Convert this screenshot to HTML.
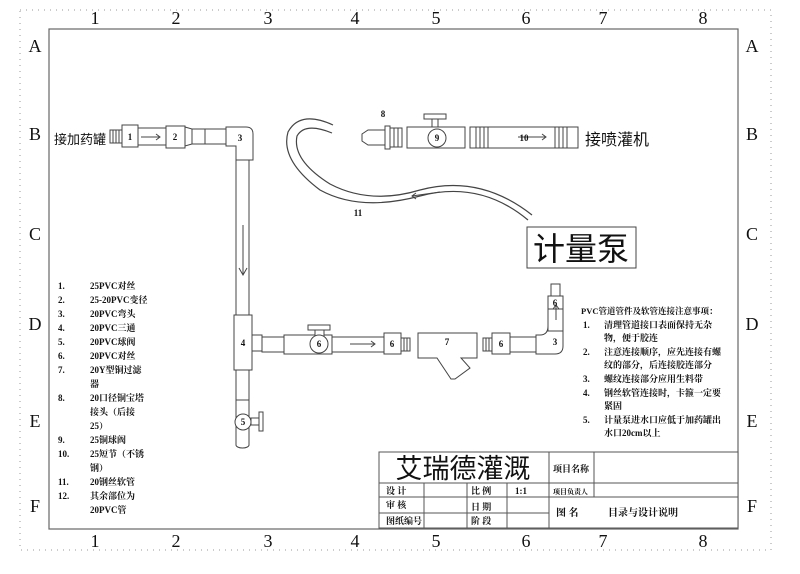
<!DOCTYPE html>
<html><head><meta charset="utf-8"><style>
html,body{margin:0;padding:0;background:#fff}
svg{display:block}
text{font-family:"Liberation Serif","Noto Serif CJK SC",serif;fill:#111}
.s{font-family:"Liberation Serif","Noto Sans CJK SC",serif;font-weight:bold;font-size:9px}
</style></head><body>
<svg width="800" height="574" viewBox="0 0 800 574" xmlns="http://www.w3.org/2000/svg">
<g fill="none" stroke="#999" stroke-width="1" stroke-dasharray="1,5">
<rect x="20" y="10" width="751" height="540"/>
</g>
<rect x="49" y="29" width="689" height="500" fill="none" stroke="#666" stroke-width="1.2"/>
<g font-size="18" text-anchor="middle">
<text x="95" y="24">1</text><text x="176" y="24">2</text><text x="268" y="24">3</text><text x="355" y="24">4</text><text x="436" y="24">5</text><text x="526" y="24">6</text><text x="603" y="24">7</text><text x="703" y="24">8</text>
<text x="95" y="547">1</text><text x="176" y="547">2</text><text x="268" y="547">3</text><text x="355" y="547">4</text><text x="436" y="547">5</text><text x="526" y="547">6</text><text x="603" y="547">7</text><text x="703" y="547">8</text>
<text x="35" y="52">A</text><text x="35" y="140">B</text><text x="35" y="240">C</text><text x="35" y="330">D</text><text x="35" y="427">E</text><text x="35" y="512">F</text>
<text x="752" y="52">A</text><text x="752" y="140">B</text><text x="752" y="240">C</text><text x="752" y="330">D</text><text x="752" y="427">E</text><text x="752" y="512">F</text>
</g>

<g fill="#fff" stroke="#444" stroke-width="1">
<rect x="110" y="130" width="12" height="13"/>
<line x1="113" y1="130" x2="113" y2="143"/><line x1="116" y1="130" x2="116" y2="143"/><line x1="119" y1="130" x2="119" y2="143"/>
<rect x="122" y="125" width="16" height="22"/>
<rect x="138" y="128" width="28" height="17"/>
<rect x="166" y="126" width="19" height="22"/>
<path d="M185 127 L192 129 L192 144 L185 146Z"/>
<rect x="192" y="129" width="13" height="15"/>
<rect x="205" y="129" width="21" height="15"/>
<path d="M226 127 L246 127 Q253 127 253 134 L253 160 L236 160 L236 146 L226 146Z"/>
<rect x="236" y="160" width="13" height="155"/>
<rect x="234" y="315" width="18" height="55"/>
<rect x="252" y="335" width="10" height="16"/>
<rect x="236" y="370" width="13" height="30"/>
<path d="M236 400 L249 400 L249 445 A6.5 3 0 0 1 236 445Z"/>
<circle cx="243" cy="422" r="8"/>
<rect x="251" y="418" width="8" height="7"/><rect x="259" y="412" width="4" height="19"/>
<rect x="262" y="337" width="22" height="15"/>
<rect x="284" y="335" width="48" height="19"/>
<rect x="315" y="330" width="9" height="6"/><rect x="308" y="325" width="22" height="5"/>
<circle cx="319" cy="344" r="9"/>
<rect x="332" y="337" width="52" height="15"/>
<rect x="384" y="333" width="17" height="21"/>
<rect x="401" y="338" width="9" height="13"/>
<line x1="404" y1="338" x2="404" y2="351"/><line x1="407" y1="338" x2="407" y2="351"/>
<path d="M418 333 L477 333 L477 358 L461 358 L470 368 L455 379 L451 379 L437 358 L418 358Z"/>
<rect x="483" y="338" width="9" height="13"/>
<line x1="486" y1="338" x2="486" y2="351"/><line x1="489" y1="338" x2="489" y2="351"/>
<rect x="492" y="333" width="18" height="21"/>
<rect x="510" y="337" width="26" height="15"/>
<path d="M536 335 L536 354 L555 354 Q563 354 563 346 L563 300 L548 300 L548 326 Q548 335 540 335Z"/>
<rect x="548" y="296" width="15" height="35"/>
<rect x="548" y="296" width="15" height="13"/>
<rect x="551" y="284" width="9" height="12"/>
<path d="M362 134 L368 130 L385 130 L385 145 L368 145 L362 141Z"/>
<rect x="385" y="126" width="5" height="23"/>
<rect x="390" y="128" width="12" height="19"/>
<line x1="394" y1="128" x2="394" y2="147"/><line x1="398" y1="128" x2="398" y2="147"/>
<rect x="407" y="127" width="58" height="21"/>
<rect x="432" y="118" width="6" height="9"/><rect x="424" y="114" width="22" height="5"/>
<circle cx="437" cy="138" r="9"/>
<rect x="470" y="127" width="108" height="21"/>
<line x1="476" y1="127" x2="476" y2="148"/><line x1="480" y1="127" x2="480" y2="148"/><line x1="484" y1="127" x2="484" y2="148"/><line x1="488" y1="127" x2="488" y2="148"/>
<line x1="555" y1="127" x2="555" y2="148"/><line x1="559" y1="127" x2="559" y2="148"/><line x1="563" y1="127" x2="563" y2="148"/><line x1="567" y1="127" x2="567" y2="148"/>
</g>
<g fill="none" stroke="#444" stroke-width="1.2">
<path d="M333 125 Q300 110 288 132 Q280 160 320 190 Q360 212 420 196 Q480 180 528 220"/>
<path d="M332 133 Q305 122 297 136 Q292 160 330 184 Q370 205 420 190 Q480 174 532 215"/>
</g>
<g fill="none" stroke="#444" stroke-width="1">
<path d="M141 137 L160 137 M156 134 L160 137 L156 140"/>
<path d="M243 225 L243 275 M239 268 L243 275 L247 268"/>
<path d="M350 344 L375 344 M371 341 L375 344 L371 347"/>
<path d="M556 320 L556 305 M553 309 L556 305 L559 309"/>
<path d="M518 137 L546 137 M542 134 L546 137 L542 140"/>
<path d="M440 192 L412 196 M416 193 L412 196 L416 199"/>
</g>
<g class="s" text-anchor="middle">
<text x="130" y="140">1</text><text x="175" y="140">2</text><text x="240" y="141">3</text><text x="243" y="346">4</text><text x="243" y="425">5</text>
<text x="319" y="347">6</text><text x="392" y="347">6</text><text x="447" y="345">7</text><text x="501" y="347">6</text><text x="555" y="345">3</text><text x="555" y="306">6</text>
<text x="383" y="117">8</text><text x="437" y="141">9</text><text x="524" y="141">10</text><text x="358" y="216">11</text>
</g>
<text x="54" y="144" font-size="13" style="font-family:'Liberation Sans','Noto Sans CJK SC',sans-serif">接加药罐</text>
<text x="585" y="145" font-size="16" style="font-family:'Liberation Sans','Noto Sans CJK SC',sans-serif">接喷灌机</text>
<rect x="527" y="227" width="109" height="41" fill="none" stroke="#444"/>
<text x="581" y="260" font-size="32" text-anchor="middle" style="font-family:'Liberation Sans','Noto Sans CJK SC',sans-serif">计量泵</text>

<g class="s">
<text x="58" y="289">1.</text><text x="90" y="289">25PVC对丝</text>
<text x="58" y="303">2.</text><text x="90" y="303">25-20PVC变径</text>
<text x="58" y="317">3.</text><text x="90" y="317">20PVC弯头</text>
<text x="58" y="331">4.</text><text x="90" y="331">20PVC三通</text>
<text x="58" y="345">5.</text><text x="90" y="345">20PVC球阀</text>
<text x="58" y="359">6.</text><text x="90" y="359">20PVC对丝</text>
<text x="58" y="373">7.</text><text x="90" y="373">20Y型铜过滤</text><text x="90" y="387">器</text>
<text x="58" y="401">8.</text><text x="90" y="401">20口径铜宝塔</text><text x="90" y="415">接头（后接</text><text x="90" y="429">25）</text>
<text x="58" y="443">9.</text><text x="90" y="443">25铜球阀</text>
<text x="58" y="457">10.</text><text x="90" y="457">25短节（不锈</text><text x="90" y="471">钢）</text>
<text x="58" y="485">11.</text><text x="90" y="485">20钢丝软管</text>
<text x="58" y="499">12.</text><text x="90" y="499">其余部位为</text><text x="90" y="513">20PVC管</text>
</g>
<g class="s" font-size="8.5">
<text x="581" y="314" style="font-size:8.5px">PVC管道管件及软管连接注意事项：</text>
<text x="583" y="328">1.</text><text x="604" y="328">清理管道接口表面保持无杂</text><text x="604" y="341">物，便于胶连</text>
<text x="583" y="355">2.</text><text x="604" y="355">注意连接顺序，应先连接有螺</text><text x="604" y="368">纹的部分，后连接胶连部分</text>
<text x="583" y="382">3.</text><text x="604" y="382">螺纹连接部分应用生料带</text>
<text x="583" y="396">4.</text><text x="604" y="396">钢丝软管连接时，卡箍一定要</text><text x="604" y="409">紧固</text>
<text x="583" y="423">5.</text><text x="604" y="423">计量泵进水口应低于加药罐出</text><text x="604" y="436">水口20cm以上</text>
</g>
<g fill="none" stroke="#555" stroke-width="1">
<rect x="379" y="452" width="359" height="76" fill="#fff"/>
<line x1="379" y1="483" x2="738" y2="483"/>
<line x1="379" y1="497" x2="738" y2="497"/>
<line x1="379" y1="513" x2="549" y2="513"/>
<line x1="549" y1="452" x2="549" y2="528"/>
<line x1="594" y1="452" x2="594" y2="497"/>
<line x1="424" y1="483" x2="424" y2="528"/>
<line x1="467" y1="483" x2="467" y2="528"/>
<line x1="507" y1="483" x2="507" y2="528"/>
</g>
<text x="463" y="478" font-size="27" text-anchor="middle" style="font-family:'Liberation Sans','Noto Sans CJK SC',sans-serif">艾瑞德灌溉</text>
<g class="s">
<text x="553" y="472">项目名称</text>
<text x="553" y="494" style="font-size:7px">项目负责人</text>
<text x="386" y="494">设 计</text><text x="386" y="508">审 核</text><text x="386" y="524">图纸编号</text>
<text x="471" y="494">比 例</text><text x="471" y="510">日 期</text><text x="471" y="524">阶 段</text>
<text x="515" y="494">1:1</text>
<text x="556" y="516" style="font-size:10px">图 名</text>
<text x="608" y="516" style="font-size:10px">目录与设计说明</text>
</g>
</svg>
</body></html>
